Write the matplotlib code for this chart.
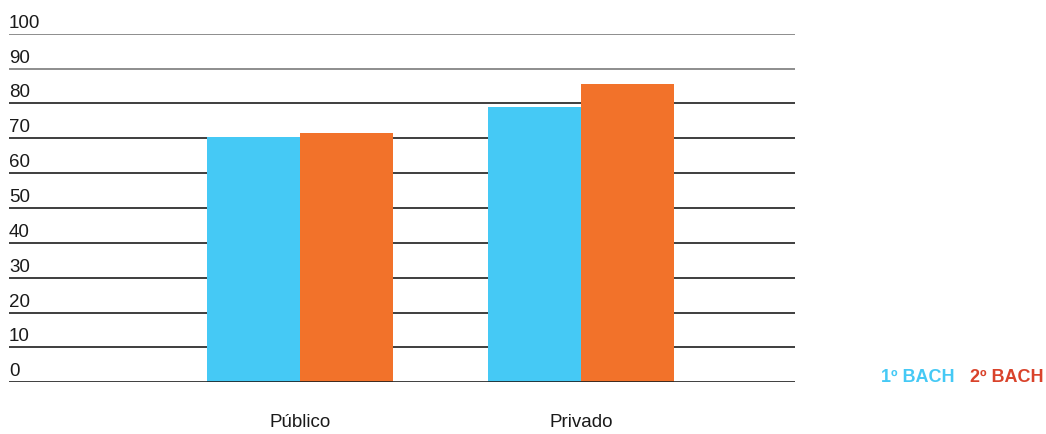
import matplotlib.pyplot as plt
import numpy as np

# data
categories = ["Público", "Privado"]
bach1 = [70.4, 79.0]
bach2 = [71.5, 85.6]
series_names = ["1º BACH", "2º BACH"]
ticks = list(range(0, 101, 10))

plt.rcParams['font.family'] = ['Liberation Sans', 'DejaVu Sans']

fig = plt.figure(figsize=(10.46, 4.34), dpi=100)
ax = fig.add_axes([9 / 1046, (434 - 382.3) / 434, 786 / 1046, (382.3 - 33.7) / 434])

x = np.arange(len(categories))
w = 0.331
ax.bar(x - w / 2, bach1, width=w, color="#45C9F5", zorder=1)
ax.bar(x + w / 2, bach2, width=w, color="#F2722A", zorder=1)

ax.set_xlim(-1.036, 1.762)
ax.set_ylim(0, 100)

# horizontal rules + labels sitting above them
for t in ticks:
    col = "#7a7a7a" if t >= 90 else "#1e1e1e"
    ax.axhline(t, color=col, lw=1.2, zorder=2 if t == 0 else 0)
    ax.annotate(str(t), xy=(0, t), xycoords=("axes fraction", "data"),
                xytext=(0, 6), textcoords="offset pixels",
                ha="left", va="baseline", fontsize=13.5, color="#1a1a1a")

for s in ax.spines.values():
    s.set_visible(False)
ax.set_yticks([])
ax.set_xticks(x)
ax.set_xticklabels(categories, fontsize=13.5, color="#1a1a1a")
ax.tick_params(axis="x", length=0, pad=23)

# legend as coloured text
fig.text(881 / 1046, (434 - 382) / 434, series_names[0], color="#45C9F5",
         fontsize=13, fontweight="bold", ha="left", va="baseline")
fig.text(1044 / 1046, (434 - 382) / 434, series_names[1], color="#D9432B",
         fontsize=13, fontweight="bold", ha="right", va="baseline")

fig.savefig("out.png", dpi=100)
